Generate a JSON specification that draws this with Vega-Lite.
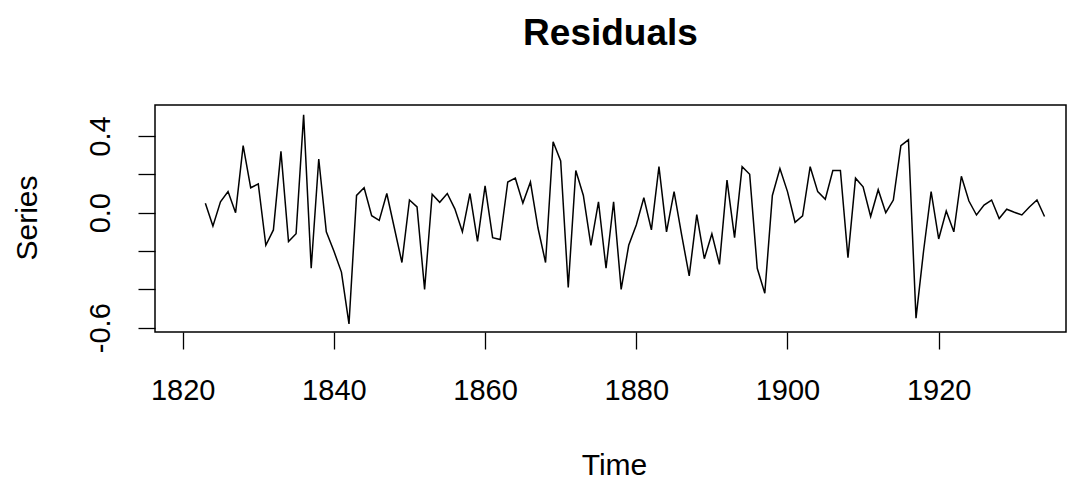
{
  "$schema": "https://vega.github.io/schema/vega-lite/v6.json",
  "width": 911,
  "height": 227,
  "autosize": {"type": "none"},
  "padding": {"left": 155, "top": 105, "right": 1, "bottom": 148},
  "background": "white",
  "config": {
    "font": "Liberation Sans",
    "view": {"stroke": "#000", "strokeWidth": 1.5},
    "axis": {"grid": false, "domain": false, "tickColor": "#000", "tickWidth": 1.3, "tickSize": 17, "labelColor": "#000", "titleColor": "#000", "labelFont": "Liberation Sans", "titleFont": "Liberation Sans", "titleFontWeight": "normal"}
  },
  "title": {"text": "Residuals", "font": "Liberation Sans", "fontSize": 37, "fontWeight": "bold", "color": "#000", "anchor": "middle", "frame": "group", "baseline": "alphabetic", "offset": 23},
  "data": {
    "values": [
      {"year": 1823, "value": 0.049}, {"year": 1824, "value": -0.07}, {"year": 1825, "value": 0.057}, {"year": 1826, "value": 0.11},
      {"year": 1827, "value": 0.0}, {"year": 1828, "value": 0.35}, {"year": 1829, "value": 0.13}, {"year": 1830, "value": 0.15},
      {"year": 1831, "value": -0.17}, {"year": 1832, "value": -0.09}, {"year": 1833, "value": 0.32}, {"year": 1834, "value": -0.15},
      {"year": 1835, "value": -0.11}, {"year": 1836, "value": 0.51}, {"year": 1837, "value": -0.29}, {"year": 1838, "value": 0.28},
      {"year": 1839, "value": -0.10}, {"year": 1840, "value": -0.20}, {"year": 1841, "value": -0.31}, {"year": 1842, "value": -0.58},
      {"year": 1843, "value": 0.09}, {"year": 1844, "value": 0.13}, {"year": 1845, "value": -0.016}, {"year": 1846, "value": -0.04},
      {"year": 1847, "value": 0.10}, {"year": 1848, "value": -0.08}, {"year": 1849, "value": -0.26}, {"year": 1850, "value": 0.066},
      {"year": 1851, "value": 0.03}, {"year": 1852, "value": -0.40}, {"year": 1853, "value": 0.096}, {"year": 1854, "value": 0.054},
      {"year": 1855, "value": 0.10}, {"year": 1856, "value": 0.02}, {"year": 1857, "value": -0.10}, {"year": 1858, "value": 0.10},
      {"year": 1859, "value": -0.15}, {"year": 1860, "value": 0.14}, {"year": 1861, "value": -0.13}, {"year": 1862, "value": -0.14},
      {"year": 1863, "value": 0.16}, {"year": 1864, "value": 0.18}, {"year": 1865, "value": 0.05}, {"year": 1866, "value": 0.16},
      {"year": 1867, "value": -0.08}, {"year": 1868, "value": -0.26}, {"year": 1869, "value": 0.37}, {"year": 1870, "value": 0.27},
      {"year": 1871, "value": -0.39}, {"year": 1872, "value": 0.22}, {"year": 1873, "value": 0.09}, {"year": 1874, "value": -0.17},
      {"year": 1875, "value": 0.057}, {"year": 1876, "value": -0.29}, {"year": 1877, "value": 0.057}, {"year": 1878, "value": -0.40},
      {"year": 1879, "value": -0.17}, {"year": 1880, "value": -0.064}, {"year": 1881, "value": 0.078}, {"year": 1882, "value": -0.09},
      {"year": 1883, "value": 0.24}, {"year": 1884, "value": -0.10}, {"year": 1885, "value": 0.11}, {"year": 1886, "value": -0.116},
      {"year": 1887, "value": -0.33}, {"year": 1888, "value": -0.01}, {"year": 1889, "value": -0.24}, {"year": 1890, "value": -0.11},
      {"year": 1891, "value": -0.27}, {"year": 1892, "value": 0.17}, {"year": 1893, "value": -0.13}, {"year": 1894, "value": 0.24},
      {"year": 1895, "value": 0.20}, {"year": 1896, "value": -0.29}, {"year": 1897, "value": -0.42}, {"year": 1898, "value": 0.09},
      {"year": 1899, "value": 0.23}, {"year": 1900, "value": 0.11}, {"year": 1901, "value": -0.05}, {"year": 1902, "value": -0.016},
      {"year": 1903, "value": 0.24}, {"year": 1904, "value": 0.11}, {"year": 1905, "value": 0.07}, {"year": 1906, "value": 0.22},
      {"year": 1907, "value": 0.22}, {"year": 1908, "value": -0.235}, {"year": 1909, "value": 0.18}, {"year": 1910, "value": 0.135},
      {"year": 1911, "value": -0.02}, {"year": 1912, "value": 0.12}, {"year": 1913, "value": 0.0}, {"year": 1914, "value": 0.066},
      {"year": 1915, "value": 0.35}, {"year": 1916, "value": 0.38}, {"year": 1917, "value": -0.55}, {"year": 1918, "value": -0.20},
      {"year": 1919, "value": 0.11}, {"year": 1920, "value": -0.137}, {"year": 1921, "value": 0.009}, {"year": 1922, "value": -0.10},
      {"year": 1923, "value": 0.19}, {"year": 1924, "value": 0.061}, {"year": 1925, "value": -0.012}, {"year": 1926, "value": 0.04},
      {"year": 1927, "value": 0.066}, {"year": 1928, "value": -0.03}, {"year": 1929, "value": 0.018}, {"year": 1930, "value": 0.002},
      {"year": 1931, "value": -0.012}, {"year": 1932, "value": 0.03}, {"year": 1933, "value": 0.066}, {"year": 1934, "value": -0.02}
    ]
  },
  "mark": {"type": "line", "color": "#000", "strokeWidth": 1.5, "interpolate": "linear"},
  "encoding": {
    "x": {
      "field": "year",
      "type": "quantitative",
      "scale": {"domain": [1816.34, 1936.84], "nice": false, "zero": false},
      "axis": {
        "values": [1820, 1840, 1860, 1880, 1900, 1920],
        "format": "d",
        "labelFontSize": 29,
        "labelBaseline": "alphabetic",
        "labelPadding": 50,
        "labelFlush": false,
        "labelOverlap": false,
        "title": "Time",
        "titleFontSize": 30,
        "titleBaseline": "alphabetic",
        "titleAnchor": null,
        "titleX": 459,
        "titleY": 142
      }
    },
    "y": {
      "field": "value",
      "type": "quantitative",
      "scale": {"domain": [-0.6224, 0.5617], "nice": false, "zero": false},
      "axis": {
        "values": [-0.6, -0.4, -0.2, 0, 0.2, 0.4],
        "labelExpr": "datum.value == 0.4 ? '0.4' : datum.value == 0 ? '0.0' : datum.value == -0.6 ? '-0.6' : ''",
        "labelAngle": 270,
        "labelAlign": "center",
        "labelBaseline": "alphabetic",
        "labelFontSize": 29,
        "labelPadding": 29,
        "labelFlush": false,
        "labelOverlap": false,
        "title": "Series",
        "titleFontSize": 30,
        "titleAngle": 270,
        "titleAlign": "center",
        "titleBaseline": "alphabetic",
        "titleAnchor": null,
        "titleX": -119,
        "titleY": 112.5
      }
    }
  }
}
